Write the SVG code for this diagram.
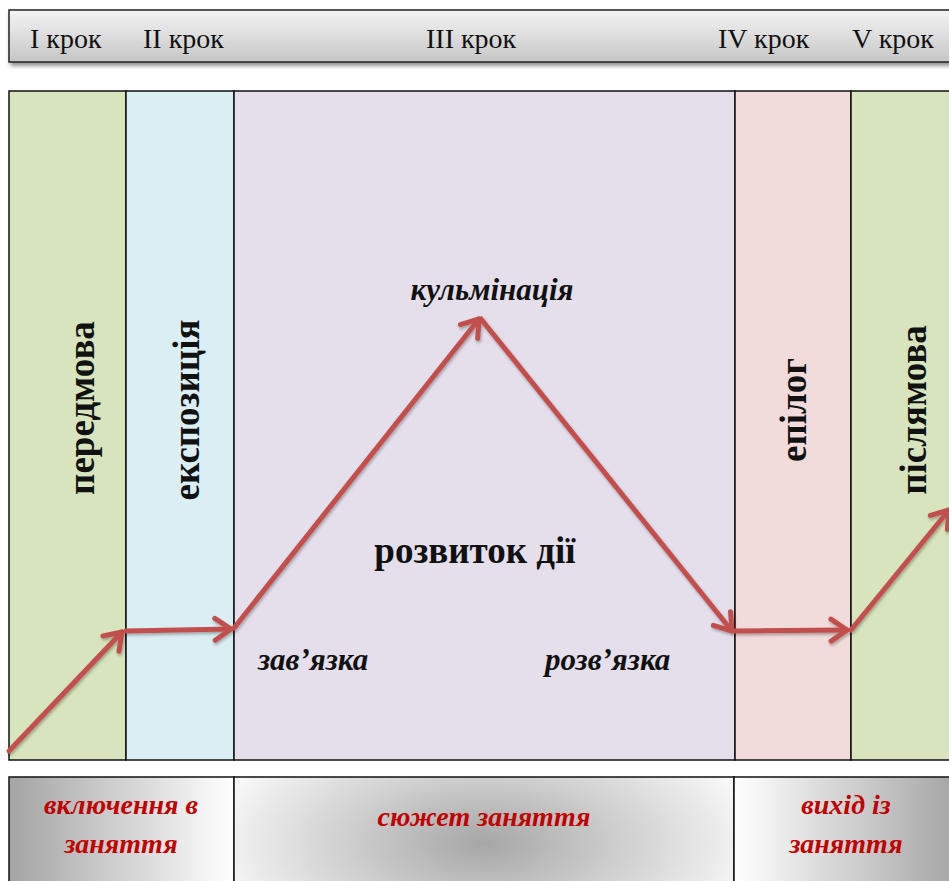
<svg xmlns="http://www.w3.org/2000/svg" width="949" height="881" viewBox="0 0 949 881">
<defs>
<linearGradient id="gTop" x1="0" y1="0" x2="0" y2="1">
<stop offset="0" stop-color="#f4f4f4"/><stop offset="1" stop-color="#c6c6c6"/>
</linearGradient>
<linearGradient id="gLeft" x1="0" y1="0" x2="1" y2="0">
<stop offset="0" stop-color="#a4a4a4"/><stop offset="1" stop-color="#ffffff"/>
</linearGradient>
<linearGradient id="gRight" x1="0" y1="0" x2="1" y2="0">
<stop offset="0" stop-color="#ffffff"/><stop offset="1" stop-color="#a4a4a4"/>
</linearGradient>
<radialGradient id="gMid" cx="0.5" cy="0.6" r="0.6" gradientTransform="translate(0.5 0.6) scale(1 2.2) translate(-0.5 -0.6)">
<stop offset="0" stop-color="#a6a6a6"/><stop offset="1" stop-color="#ffffff"/>
</radialGradient>
<filter id="sh" x="-5%" y="-20%" width="110%" height="160%">
<feDropShadow dx="2" dy="3" stdDeviation="2" flood-color="#000" flood-opacity="0.45"/>
</filter>
<filter id="ash" x="-20%" y="-20%" width="140%" height="140%">
<feDropShadow dx="1" dy="2" stdDeviation="1.5" flood-color="#000" flood-opacity="0.3"/>
</filter>
<marker id="ah" markerWidth="40" markerHeight="40" refX="0" refY="0" orient="auto" markerUnits="userSpaceOnUse" viewBox="-20 -20 40 40">
<path d="M-16,-11 L0,0 L-16,11" fill="none" stroke="#c0504d" stroke-width="5" stroke-linecap="round" stroke-linejoin="round"/>
</marker>
</defs>
<style>
.step{font-family:"Liberation Serif","Times New Roman",serif;font-size:28px;fill:#111}
.vert{font-family:"Liberation Serif","Times New Roman",serif;font-size:37px;font-weight:bold;fill:#111;text-anchor:middle}
.bi{font-family:"Liberation Serif","Times New Roman",serif;font-size:31px;font-weight:bold;font-style:italic;fill:#111}
.red{font-family:"Liberation Serif","Times New Roman",serif;font-size:28px;font-weight:bold;font-style:italic;fill:#c00000;text-anchor:middle}
.col{stroke:#111;stroke-width:1.5}
.arr{fill:none;stroke:#c0504d;stroke-width:5;stroke-linecap:round}
</style>
<rect width="949" height="881" fill="#ffffff"/>
<g id="header">
<rect x="9" y="10" width="950" height="52" fill="url(#gTop)" stroke="#222" stroke-width="1.5" filter="url(#sh)"/>
<text class="step" x="30" y="48">I крок</text>
<text class="step" x="143" y="48">II крок</text>
<text class="step" x="426" y="48">III крок</text>
<text class="step" x="718" y="48">IV крок</text>
<text class="step" x="852" y="48">V крок</text>
</g>
<g id="col1"><rect class="col" x="9" y="91" width="117" height="669" fill="#d7e4bd"/>
<text class="vert" transform="translate(94 408) rotate(-90)">передмова</text></g>
<g id="col2"><rect class="col" x="126" y="91" width="108" height="669" fill="#dbeef4"/>
<text class="vert" transform="translate(199 410) rotate(-90)">експозиція</text></g>
<g id="col3"><rect class="col" x="234" y="91" width="501" height="669" fill="#e5dfec"/>
<text class="bi" x="492" y="300" text-anchor="middle">кульмінація</text>
<text class="vert" x="475" y="563">розвиток дії</text>
<text class="bi" x="258" y="670">зав’язка</text>
<text class="bi" x="545" y="670">розв’язка</text></g>
<g id="col4"><rect class="col" x="735" y="91" width="116" height="669" fill="#f2dcdb"/>
<text class="vert" transform="translate(806 410) rotate(-90)">епілог</text></g>
<g id="col5"><rect class="col" x="851" y="91" width="110" height="669" fill="#d7e4bd"/>
<text class="vert" transform="translate(926 410) rotate(-90)">післямова</text></g>
<g id="connectors" filter="url(#ash)">
<path class="arr" d="M9,751 L122,632" marker-end="url(#ah)"/>
<path class="arr" d="M126,631 L231,629" marker-end="url(#ah)"/>
<path class="arr" d="M234,628 L479,319" marker-end="url(#ah)"/>
<path class="arr" d="M481,319 L732,631" marker-end="url(#ah)"/>
<path class="arr" d="M735,631 L847,630" marker-end="url(#ah)"/>
<path class="arr" d="M851,630 L949,510" marker-end="url(#ah)"/>
</g>
<g id="footer">
<rect x="9" y="777" width="225" height="110" fill="url(#gLeft)" stroke="#111" stroke-width="1.5"/>
<rect x="234" y="777" width="500" height="110" fill="url(#gMid)" stroke="#111" stroke-width="1.5"/>
<rect x="734" y="777" width="225" height="110" fill="url(#gRight)" stroke="#111" stroke-width="1.5"/>
<text class="red" x="121" y="814">включення в</text>
<text class="red" x="121" y="853">заняття</text>
<text class="red" x="484" y="826">сюжет заняття</text>
<text class="red" x="846" y="814">вихід із</text>
<text class="red" x="846" y="853">заняття</text>
</g>
</svg>
